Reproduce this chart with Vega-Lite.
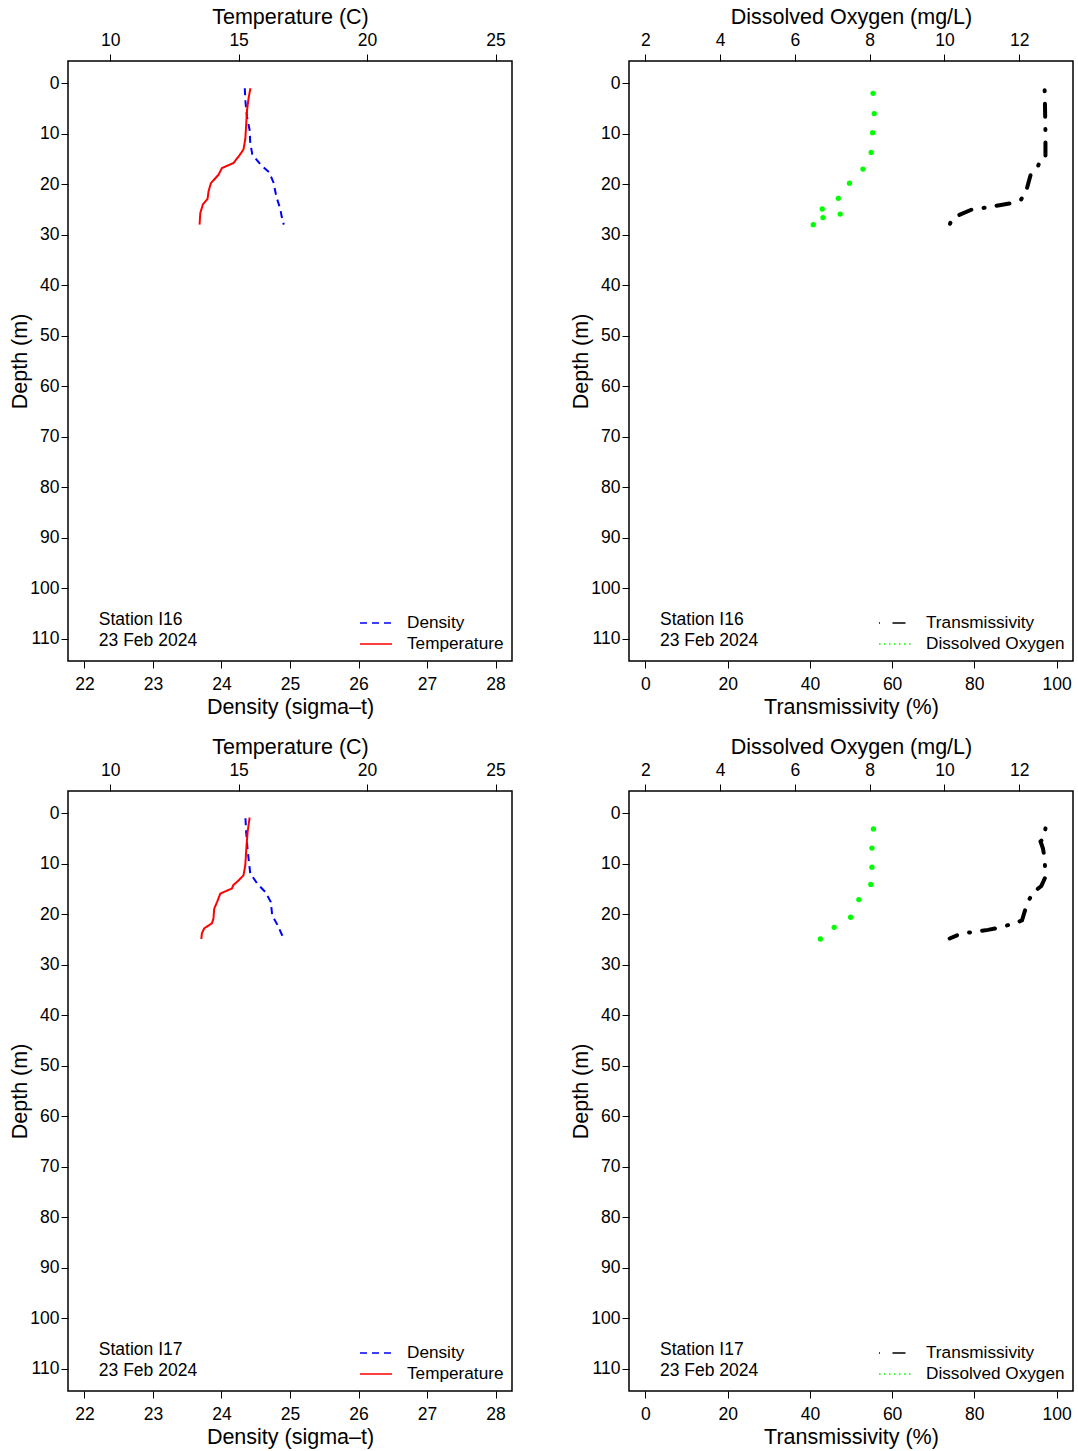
{
  "$schema": "https://vega.github.io/schema/vega-lite/v6.json",
  "background": "white",
  "padding": {"left": 8, "top": 5, "right": 5, "bottom": 5},
  "bounds": "flush",
  "columns": 2,
  "spacing": {"row": 130, "column": 117},
  "config": {
    "font": "Liberation Sans",
    "view": {"stroke": "black", "strokeWidth": 1.5},
    "axis": {
      "domain": false, "grid": false, "tickColor": "black", "tickSize": 7, "tickWidth": 1,
      "labelColor": "black", "labelFontSize": 17.5, "labelPadding": 6,
      "titleColor": "black", "titleFontSize": 21.5, "titleFontWeight": "normal", "titlePadding": 3
    },
    "axisTop": {"labelPadding": 4.5},
    "axisBottom": {"labelPadding": 7.5},
    "axisLeft": {"labelPadding": 2, "titlePadding": -1.5},
    "legend": {
      "orient": "bottom-right", "labelFontSize": 17.2, "labelColor": "black", "symbolType": "M-1.6,0L1.6,0",
      "symbolSize": 400, "symbolStrokeWidth": 1.5, "labelOffset": 20, "rowPadding": 1, "padding": 0, "offset": 8
    }
  },
  "datasets": {
    "i16ctd": [
      {"series": "Density", "depth": 1.0, "value": 24.34},
      {"series": "Density", "depth": 3.6, "value": 24.35},
      {"series": "Density", "depth": 6.5, "value": 24.37},
      {"series": "Density", "depth": 9.2, "value": 24.41},
      {"series": "Density", "depth": 11.8, "value": 24.42},
      {"series": "Density", "depth": 14.1, "value": 24.45},
      {"series": "Density", "depth": 16.1, "value": 24.57},
      {"series": "Density", "depth": 17.7, "value": 24.70},
      {"series": "Density", "depth": 19.7, "value": 24.76},
      {"series": "Density", "depth": 22.4, "value": 24.80},
      {"series": "Density", "depth": 25.0, "value": 24.86},
      {"series": "Density", "depth": 26.5, "value": 24.88},
      {"series": "Density", "depth": 28.0, "value": 24.91},
      {"series": "Temperature", "depth": 1.0, "value": 15.46},
      {"series": "Temperature", "depth": 2.9, "value": 15.39},
      {"series": "Temperature", "depth": 5.2, "value": 15.33},
      {"series": "Temperature", "depth": 11.1, "value": 15.26},
      {"series": "Temperature", "depth": 13.1, "value": 15.19},
      {"series": "Temperature", "depth": 14.1, "value": 15.06},
      {"series": "Temperature", "depth": 15.8, "value": 14.80},
      {"series": "Temperature", "depth": 16.8, "value": 14.35},
      {"series": "Temperature", "depth": 18.1, "value": 14.22},
      {"series": "Temperature", "depth": 19.8, "value": 13.92},
      {"series": "Temperature", "depth": 21.4, "value": 13.83},
      {"series": "Temperature", "depth": 22.9, "value": 13.79},
      {"series": "Temperature", "depth": 24.0, "value": 13.61},
      {"series": "Temperature", "depth": 25.7, "value": 13.51},
      {"series": "Temperature", "depth": 28.0, "value": 13.48}
    ],
    "i16tdo": [
      {"series": "Transmissivity", "depth": 1.4, "value": 97.1},
      {"series": "Transmissivity", "depth": 5.0, "value": 97.2},
      {"series": "Transmissivity", "depth": 10.0, "value": 97.3},
      {"series": "Transmissivity", "depth": 14.4, "value": 97.3},
      {"series": "Transmissivity", "depth": 14.8, "value": 96.3},
      {"series": "Transmissivity", "depth": 16.4, "value": 95.5},
      {"series": "Transmissivity", "depth": 18.1, "value": 93.7},
      {"series": "Transmissivity", "depth": 21.4, "value": 92.6},
      {"series": "Transmissivity", "depth": 23.0, "value": 91.4},
      {"series": "Transmissivity", "depth": 23.7, "value": 89.4},
      {"series": "Transmissivity", "depth": 24.3, "value": 85.0},
      {"series": "Transmissivity", "depth": 24.7, "value": 82.1},
      {"series": "Transmissivity", "depth": 24.9, "value": 79.7},
      {"series": "Transmissivity", "depth": 26.3, "value": 75.7},
      {"series": "Transmissivity", "depth": 27.6, "value": 74.2},
      {"series": "Transmissivity", "depth": 28.0, "value": 74.0},
      {"series": "Dissolved Oxygen", "depth": 2.0, "value": 8.09},
      {"series": "Dissolved Oxygen", "depth": 6.0, "value": 8.12},
      {"series": "Dissolved Oxygen", "depth": 9.8, "value": 8.08},
      {"series": "Dissolved Oxygen", "depth": 13.7, "value": 8.04},
      {"series": "Dissolved Oxygen", "depth": 17.0, "value": 7.82},
      {"series": "Dissolved Oxygen", "depth": 19.8, "value": 7.46},
      {"series": "Dissolved Oxygen", "depth": 22.8, "value": 7.16},
      {"series": "Dissolved Oxygen", "depth": 24.9, "value": 6.73},
      {"series": "Dissolved Oxygen", "depth": 25.9, "value": 7.21},
      {"series": "Dissolved Oxygen", "depth": 26.6, "value": 6.75},
      {"series": "Dissolved Oxygen", "depth": 28.0, "value": 6.49}
    ],
    "i17ctd": [
      {"series": "Density", "depth": 1.0, "value": 24.35},
      {"series": "Density", "depth": 3.7, "value": 24.36},
      {"series": "Density", "depth": 7.0, "value": 24.38},
      {"series": "Density", "depth": 9.6, "value": 24.40},
      {"series": "Density", "depth": 11.9, "value": 24.42},
      {"series": "Density", "depth": 13.9, "value": 24.52},
      {"series": "Density", "depth": 15.6, "value": 24.64},
      {"series": "Density", "depth": 17.6, "value": 24.72},
      {"series": "Density", "depth": 20.2, "value": 24.74},
      {"series": "Density", "depth": 22.2, "value": 24.82},
      {"series": "Density", "depth": 24.9, "value": 24.91},
      {"series": "Temperature", "depth": 0.85, "value": 15.43},
      {"series": "Temperature", "depth": 3.7, "value": 15.35},
      {"series": "Temperature", "depth": 7.0, "value": 15.30},
      {"series": "Temperature", "depth": 10.3, "value": 15.26},
      {"series": "Temperature", "depth": 12.3, "value": 15.19},
      {"series": "Temperature", "depth": 13.3, "value": 15.00},
      {"series": "Temperature", "depth": 14.2, "value": 14.80},
      {"series": "Temperature", "depth": 14.9, "value": 14.74},
      {"series": "Temperature", "depth": 15.9, "value": 14.29},
      {"series": "Temperature", "depth": 17.6, "value": 14.16},
      {"series": "Temperature", "depth": 18.9, "value": 14.05},
      {"series": "Temperature", "depth": 20.9, "value": 14.02},
      {"series": "Temperature", "depth": 21.8, "value": 13.96},
      {"series": "Temperature", "depth": 22.8, "value": 13.66},
      {"series": "Temperature", "depth": 23.8, "value": 13.57},
      {"series": "Temperature", "depth": 24.9, "value": 13.55}
    ],
    "i17tdo": [
      {"series": "Transmissivity", "depth": 3.0, "value": 97.3},
      {"series": "Transmissivity", "depth": 4.7, "value": 97.1},
      {"series": "Transmissivity", "depth": 5.6, "value": 96.1},
      {"series": "Transmissivity", "depth": 7.0, "value": 96.7},
      {"series": "Transmissivity", "depth": 9.0, "value": 97.1},
      {"series": "Transmissivity", "depth": 12.6, "value": 97.3},
      {"series": "Transmissivity", "depth": 14.4, "value": 96.3},
      {"series": "Transmissivity", "depth": 15.7, "value": 94.3},
      {"series": "Transmissivity", "depth": 17.6, "value": 93.0},
      {"series": "Transmissivity", "depth": 19.6, "value": 92.2},
      {"series": "Transmissivity", "depth": 21.2, "value": 91.6},
      {"series": "Transmissivity", "depth": 21.8, "value": 89.8},
      {"series": "Transmissivity", "depth": 22.7, "value": 85.8},
      {"series": "Transmissivity", "depth": 23.1, "value": 83.3},
      {"series": "Transmissivity", "depth": 23.5, "value": 80.1},
      {"series": "Transmissivity", "depth": 23.8, "value": 76.9},
      {"series": "Transmissivity", "depth": 24.8, "value": 74.0},
      {"series": "Dissolved Oxygen", "depth": 3.1, "value": 8.10},
      {"series": "Dissolved Oxygen", "depth": 6.9, "value": 8.06},
      {"series": "Dissolved Oxygen", "depth": 10.7, "value": 8.06},
      {"series": "Dissolved Oxygen", "depth": 14.1, "value": 8.03},
      {"series": "Dissolved Oxygen", "depth": 17.1, "value": 7.71},
      {"series": "Dissolved Oxygen", "depth": 20.6, "value": 7.49},
      {"series": "Dissolved Oxygen", "depth": 22.6, "value": 7.05},
      {"series": "Dissolved Oxygen", "depth": 24.9, "value": 6.68}
    ]
  },
  "resolve": {
    "scale": {"color": "independent", "strokeDash": "independent", "x": "independent", "y": "independent"},
    "legend": {"color": "independent", "strokeDash": "independent"}
  },
  "concat": [
    {
      "width": 444, "height": 600,
      "data": {"name": "i16ctd"},
      "resolve": {"scale": {"x": "independent"}},
      "layer": [
        {
          "transform": [{"filter": "datum.series === 'Density'"}],
          "mark": {"type": "line", "strokeWidth": 2},
          "encoding": {
            "x": {"field": "value", "type": "quantitative", "scale": {"domain": [21.76, 28.24], "nice": false, "zero": false}, "axis": {"orient": "bottom", "values": [22, 23, 24, 25, 26, 27, 28], "title": "Density (sigma–t)"}},
            "y": {"field": "depth", "type": "quantitative", "scale": {"domain": [-4.4, 114.4], "reverse": true, "nice": false, "zero": false}, "axis": {"values": [0, 10, 20, 30, 40, 50, 60, 70, 80, 90, 100, 110], "title": "Depth (m)"}},
            "order": {"field": "depth", "type": "quantitative"},
            "color": {"field": "series", "type": "nominal", "scale": {"domain": ["Density", "Temperature"], "range": ["#0000FF", "#FF0000"]}, "legend": {"title": null}},
            "strokeDash": {"field": "series", "type": "nominal", "scale": {"domain": ["Density", "Temperature"], "range": [[7, 5], [1, 0]]}, "legend": {"title": null}}
          }
        },
        {
          "transform": [{"filter": "datum.series === 'Temperature'"}],
          "mark": {"type": "line", "strokeWidth": 2},
          "encoding": {
            "x": {"field": "value", "type": "quantitative", "scale": {"domain": [8.36, 25.64], "nice": false, "zero": false}, "axis": {"orient": "top", "values": [10, 15, 20, 25], "title": "Temperature (C)"}},
            "y": {"field": "depth", "type": "quantitative"},
            "order": {"field": "depth", "type": "quantitative"},
            "color": {"field": "series", "type": "nominal", "legend": {"title": null}},
            "strokeDash": {"field": "series", "type": "nominal", "legend": {"title": null}}
          }
        },
        {
          "data": {"values": [{"label": "station"}]},
          "mark": {"type": "text", "text": ["Station I16", "23 Feb 2024"], "align": "left", "baseline": "middle", "fontSize": 17.5, "lineHeight": 21, "color": "black"},
          "encoding": {
            "x": {"datum": 22.21, "type": "quantitative", "scale": {"domain": [21.76, 28.24], "nice": false, "zero": false}, "axis": null},
            "y": {"datum": 106.3, "type": "quantitative"}
          }
        }
      ]
    },
    {
      "width": 444, "height": 600,
      "data": {"name": "i16tdo"},
      "resolve": {"scale": {"x": "independent"}},
      "layer": [
        {
          "transform": [{"filter": "datum.series === 'Transmissivity'"}],
          "mark": {"type": "line", "strokeWidth": 4, "strokeCap": "round"},
          "encoding": {
            "x": {"field": "value", "type": "quantitative", "scale": {"domain": [-4, 104], "nice": false, "zero": false}, "axis": {"orient": "bottom", "values": [0, 20, 40, 60, 80, 100], "title": "Transmissivity (%)"}},
            "y": {"field": "depth", "type": "quantitative", "scale": {"domain": [-4.4, 114.4], "reverse": true, "nice": false, "zero": false}, "axis": {"values": [0, 10, 20, 30, 40, 50, 60, 70, 80, 90, 100, 110], "title": "Depth (m)"}},
            "order": {"field": "depth", "type": "quantitative"},
            "color": {"field": "series", "type": "nominal", "scale": {"domain": ["Transmissivity", "Dissolved Oxygen"], "range": ["#000000", "#00FF00"]}, "legend": {"title": null}},
            "strokeDash": {"field": "series", "type": "nominal", "scale": {"domain": ["Transmissivity", "Dissolved Oxygen"], "range": [[1, 12.5, 13, 12.2], [1.5, 3.5]]}, "legend": {"title": null}}
          }
        },
        {
          "transform": [{"filter": "datum.series === 'Dissolved Oxygen'"}],
          "mark": {"type": "point", "filled": true, "size": 28, "opacity": 1},
          "encoding": {
            "x": {"field": "value", "type": "quantitative", "scale": {"domain": [1.56, 13.44], "nice": false, "zero": false}, "axis": {"orient": "top", "values": [2, 4, 6, 8, 10, 12], "title": "Dissolved Oxygen (mg/L)"}},
            "y": {"field": "depth", "type": "quantitative"},
            "color": {"field": "series", "type": "nominal", "legend": null}
          }
        },
        {
          "data": {"values": [{"label": "station"}]},
          "mark": {"type": "text", "text": ["Station I16", "23 Feb 2024"], "align": "left", "baseline": "middle", "fontSize": 17.5, "lineHeight": 21, "color": "black"},
          "encoding": {
            "x": {"datum": 3.54, "type": "quantitative", "scale": {"domain": [-4, 104], "nice": false, "zero": false}, "axis": null},
            "y": {"datum": 106.3, "type": "quantitative"}
          }
        }
      ]
    },
    {
      "width": 444, "height": 600,
      "data": {"name": "i17ctd"},
      "resolve": {"scale": {"x": "independent"}},
      "layer": [
        {
          "transform": [{"filter": "datum.series === 'Density'"}],
          "mark": {"type": "line", "strokeWidth": 2},
          "encoding": {
            "x": {"field": "value", "type": "quantitative", "scale": {"domain": [21.76, 28.24], "nice": false, "zero": false}, "axis": {"orient": "bottom", "values": [22, 23, 24, 25, 26, 27, 28], "title": "Density (sigma–t)"}},
            "y": {"field": "depth", "type": "quantitative", "scale": {"domain": [-4.4, 114.4], "reverse": true, "nice": false, "zero": false}, "axis": {"values": [0, 10, 20, 30, 40, 50, 60, 70, 80, 90, 100, 110], "title": "Depth (m)"}},
            "order": {"field": "depth", "type": "quantitative"},
            "color": {"field": "series", "type": "nominal", "scale": {"domain": ["Density", "Temperature"], "range": ["#0000FF", "#FF0000"]}, "legend": {"title": null}},
            "strokeDash": {"field": "series", "type": "nominal", "scale": {"domain": ["Density", "Temperature"], "range": [[7, 5], [1, 0]]}, "legend": {"title": null}}
          }
        },
        {
          "transform": [{"filter": "datum.series === 'Temperature'"}],
          "mark": {"type": "line", "strokeWidth": 2},
          "encoding": {
            "x": {"field": "value", "type": "quantitative", "scale": {"domain": [8.36, 25.64], "nice": false, "zero": false}, "axis": {"orient": "top", "values": [10, 15, 20, 25], "title": "Temperature (C)"}},
            "y": {"field": "depth", "type": "quantitative"},
            "order": {"field": "depth", "type": "quantitative"},
            "color": {"field": "series", "type": "nominal", "legend": {"title": null}},
            "strokeDash": {"field": "series", "type": "nominal", "legend": {"title": null}}
          }
        },
        {
          "data": {"values": [{"label": "station"}]},
          "mark": {"type": "text", "text": ["Station I17", "23 Feb 2024"], "align": "left", "baseline": "middle", "fontSize": 17.5, "lineHeight": 21, "color": "black"},
          "encoding": {
            "x": {"datum": 22.21, "type": "quantitative", "scale": {"domain": [21.76, 28.24], "nice": false, "zero": false}, "axis": null},
            "y": {"datum": 106.3, "type": "quantitative"}
          }
        }
      ]
    },
    {
      "width": 444, "height": 600,
      "data": {"name": "i17tdo"},
      "resolve": {"scale": {"x": "independent"}},
      "layer": [
        {
          "transform": [{"filter": "datum.series === 'Transmissivity'"}],
          "mark": {"type": "line", "strokeWidth": 4, "strokeCap": "round"},
          "encoding": {
            "x": {"field": "value", "type": "quantitative", "scale": {"domain": [-4, 104], "nice": false, "zero": false}, "axis": {"orient": "bottom", "values": [0, 20, 40, 60, 80, 100], "title": "Transmissivity (%)"}},
            "y": {"field": "depth", "type": "quantitative", "scale": {"domain": [-4.4, 114.4], "reverse": true, "nice": false, "zero": false}, "axis": {"values": [0, 10, 20, 30, 40, 50, 60, 70, 80, 90, 100, 110], "title": "Depth (m)"}},
            "order": {"field": "depth", "type": "quantitative"},
            "color": {"field": "series", "type": "nominal", "scale": {"domain": ["Transmissivity", "Dissolved Oxygen"], "range": ["#000000", "#00FF00"]}, "legend": {"title": null}},
            "strokeDash": {"field": "series", "type": "nominal", "scale": {"domain": ["Transmissivity", "Dissolved Oxygen"], "range": [[1, 12.5, 13, 12.2], [1.5, 3.5]]}, "legend": {"title": null}}
          }
        },
        {
          "transform": [{"filter": "datum.series === 'Dissolved Oxygen'"}],
          "mark": {"type": "point", "filled": true, "size": 28, "opacity": 1},
          "encoding": {
            "x": {"field": "value", "type": "quantitative", "scale": {"domain": [1.56, 13.44], "nice": false, "zero": false}, "axis": {"orient": "top", "values": [2, 4, 6, 8, 10, 12], "title": "Dissolved Oxygen (mg/L)"}},
            "y": {"field": "depth", "type": "quantitative"},
            "color": {"field": "series", "type": "nominal", "legend": null}
          }
        },
        {
          "data": {"values": [{"label": "station"}]},
          "mark": {"type": "text", "text": ["Station I17", "23 Feb 2024"], "align": "left", "baseline": "middle", "fontSize": 17.5, "lineHeight": 21, "color": "black"},
          "encoding": {
            "x": {"datum": 3.54, "type": "quantitative", "scale": {"domain": [-4, 104], "nice": false, "zero": false}, "axis": null},
            "y": {"datum": 106.3, "type": "quantitative"}
          }
        }
      ]
    }
  ]
}
